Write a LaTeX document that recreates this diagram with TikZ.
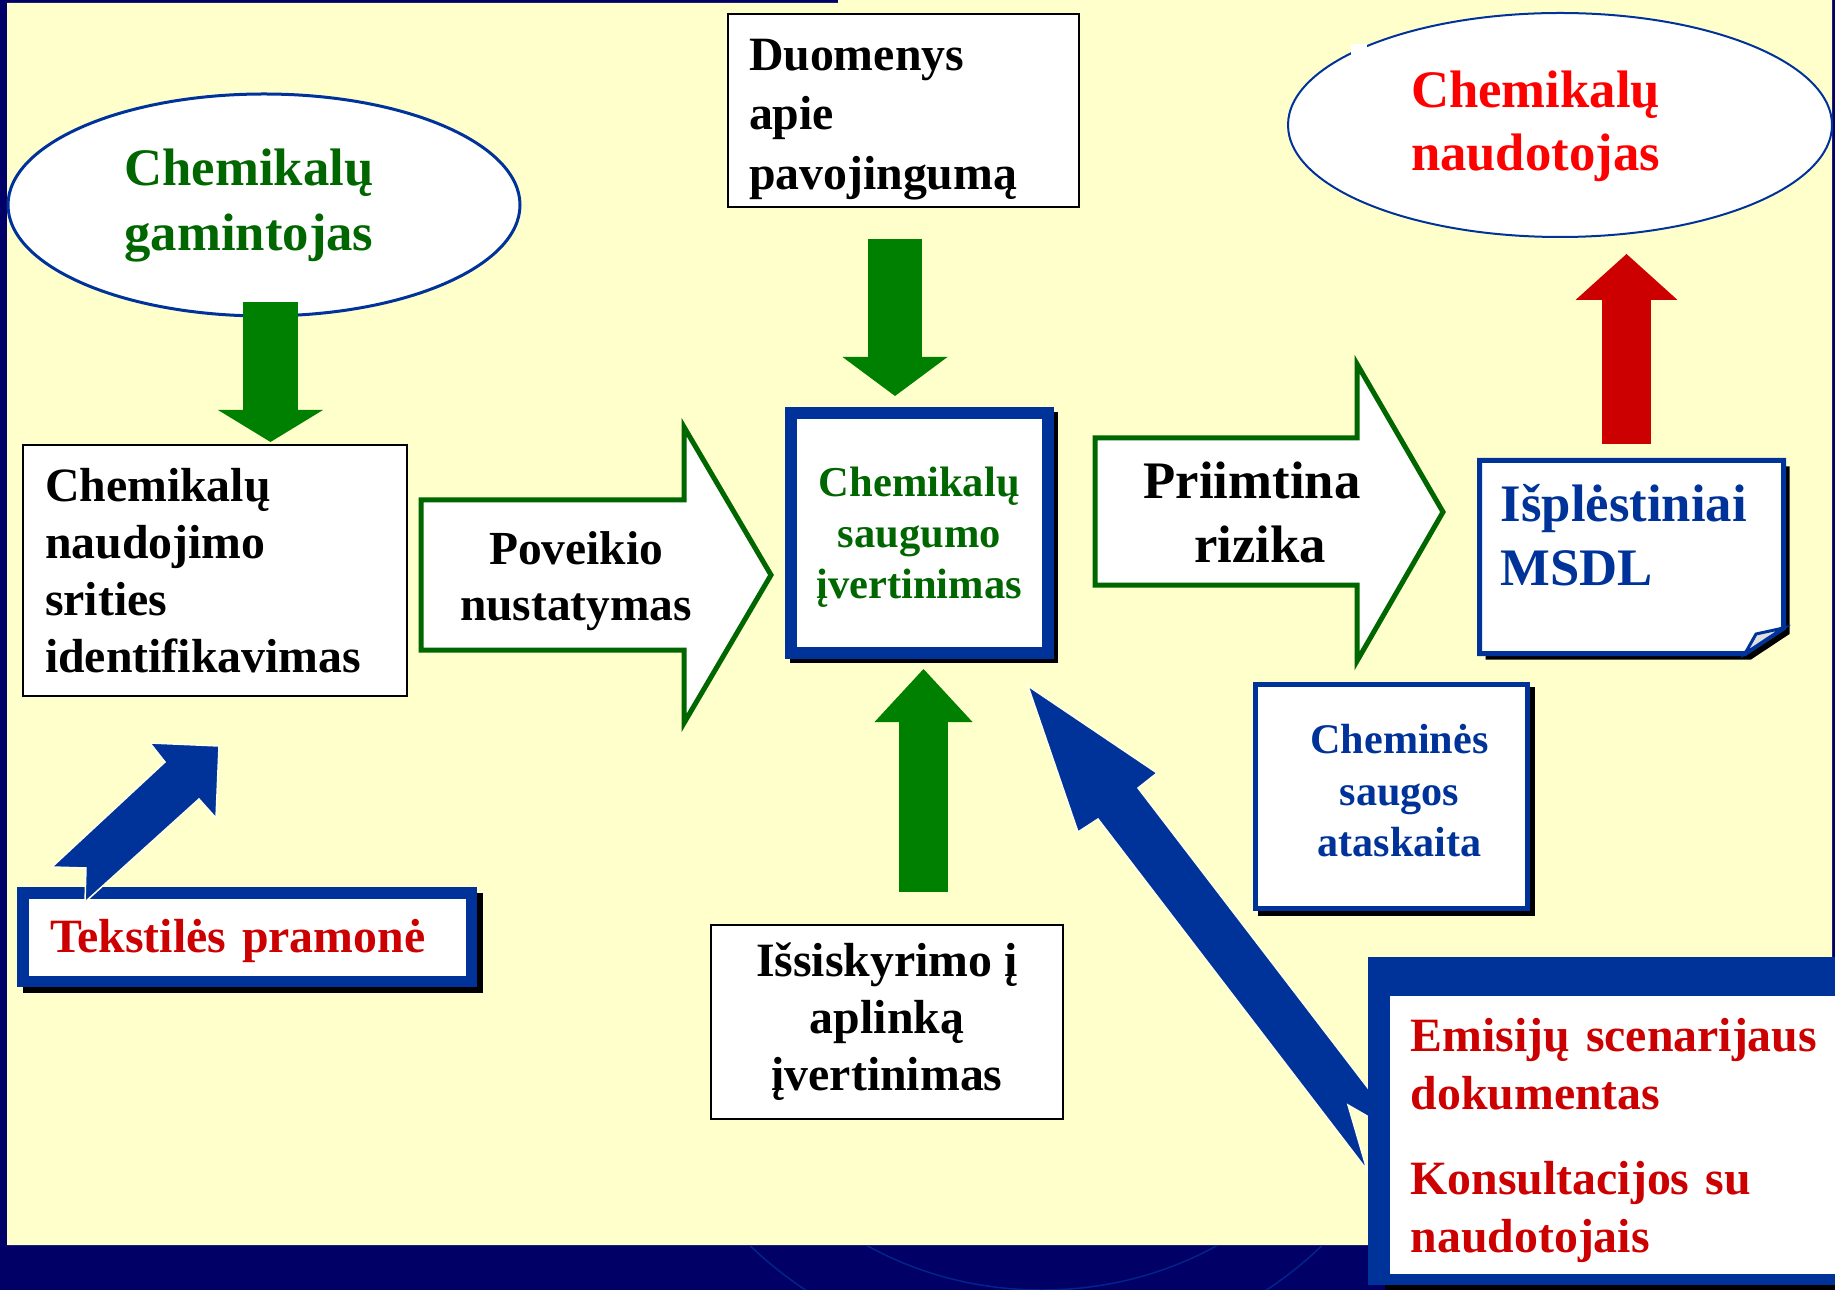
\documentclass[tikz,border=0pt]{standalone}
\usepackage{fontspec}
\setmainfont{Liberation Serif}
\usetikzlibrary{shapes.geometric,arrows.meta}
\definecolor{navy}{HTML}{000066}
\definecolor{paper}{HTML}{FFFFCC}
\definecolor{dblue}{HTML}{003399}
\definecolor{dgreen}{HTML}{006600}
\definecolor{agreen}{HTML}{008000}
\definecolor{dred}{HTML}{CC0000}
\definecolor{bred}{HTML}{FF0000}
\tikzset{
  plainbox/.style={draw=black,line width=0.2mm,fill=white,font=\bfseries\fontsize{13.6}{16.2}\selectfont},
  oval/.style={ellipse,draw=dblue,fill=white},
  hollowarrow/.style={draw=dgreen,line width=0.5mm,fill=white,line join=miter},
  notcharrow/.style={fill=dblue,draw=paper!50!white,line width=0.15mm,line join=miter},
  blockarrow/.style n args={4}{draw=#1,line width=#2,-{Triangle[width=#3,length=#4,line width=0pt]}}
}
\begin{document}
\begin{tikzpicture}[x=0.1mm,y=-0.1mm]
\useasboundingbox (0,0) rectangle (1835,1290);
\clip (0,0) rectangle (1835,1290);
\fill[navy] (0,0) rectangle (1835,1290);
\fill[paper] (7,3) -- (838,3) -- (838,0) -- (1832,0) -- (1832,1245) -- (7,1245) -- cycle;
\begin{scope}
\clip (0,1246) rectangle (1368,1290);
\draw[dblue!70!navy,line width=0.15mm] (1042,990) ellipse [x radius=334,y radius=300];
\draw[dblue!70!navy,line width=0.15mm] (1036,1000) ellipse [x radius=393,y radius=358];
\end{scope}

\node[oval,line width=0.3mm,minimum width=51.2mm,minimum height=22.2mm] (gamintojas) at (264,205) {};
\node[text=dgreen,font=\bfseries\fontsize{15}{18.5}\selectfont,align=center] (gamintojastxt) at (249,206) {Chemikalų\\gamintojas};
\node[oval,line width=0.2mm,minimum width=54.4mm,minimum height=22.4mm] (naudotojas) at (1560,125) {};
\fill[white] (1351,44) rectangle (1367,56);
\node[text=bred,font=\bfseries\fontsize{15}{18}\selectfont,align=center] (naudotojastxt) at (1535.5,126.5) {Chemikalų\\naudotojas};

\node[plainbox,font=\bfseries\fontsize{13.6}{16.9}\selectfont,text height=14pt,inner ysep=1pt,minimum width=35.1mm,minimum height=19.3mm,inner xsep=2.1mm,text width=30.9mm,align=left] (duomenys) at (903.5,110.5) {Duomenys\\apie\\pavojingumą};
\node[plainbox,minimum width=38.4mm,minimum height=25.1mm,inner xsep=2.2mm,text width=34mm,align=left] (ident) at (215,570.5) {Chemikalų\\naudojimo\\srities\\identifikavimas};
\node[plainbox,minimum width=35.2mm,minimum height=19.4mm,align=center] (issiskyrimo) at (887,1022) {Išsiskyrimo į\\aplinką\\įvertinimas};

\fill[black] (790,412) rectangle (1058,663);
\node[draw=dblue,line width=1.2mm,fill=white,minimum width=25.65mm,minimum height=23.95mm,align=center,text=dgreen,font=\bfseries\fontsize{12.1}{14.6}\selectfont,text depth=0pt] (saugumo) at (919.25,532.75) {Chemikalų\\saugumo\\įvertinimas};

\draw[hollowarrow] (421,500) -- (684,500) -- (684,427) -- (771,575) -- (684,723) -- (684,650) -- (421,650) -- cycle;
\node[font=\bfseries\fontsize{13.5}{16}\selectfont,align=center] (poveikio) at (576,581) {Poveikio\\nustatymas};
\draw[hollowarrow] (1095,438) -- (1357,438) -- (1357,364) -- (1443,512) -- (1357,661) -- (1357,585) -- (1095,585) -- cycle;
\node[font=\bfseries\fontsize{15}{18.2}\selectfont,align=center] (priimtina) at (1252,512) {Priimtina\\\hspace*{1.6mm}rizika};

\fill[black,shift={(6,6)}] (1479.5,460.5) -- (1783.5,460.5) -- (1783.5,628) -- (1745,653.5) -- (1479.5,653.5) -- cycle;
\draw[dblue,fill=white,line width=0.5mm] (1479.5,460.5) -- (1783.5,460.5) -- (1783.5,628) -- (1745,653.5) -- (1479.5,653.5) -- cycle;
\draw[dblue,fill=gray!25,line width=0.3mm] (1745,653.5) -- (1756,634) -- (1783.5,628) -- cycle;
\node[text=dblue,font=\bfseries\fontsize{15}{18.2}\selectfont,align=left,anchor=west,inner sep=0pt] (isplestiniai) at (1500,535) {Išplėstiniai\\MSDL};

\fill[black] (1258,687) rectangle (1535,916);
\node[draw=dblue,line width=0.5mm,fill=white,minimum width=27.2mm,minimum height=22.4mm,align=center,text=dblue,font=\bfseries\fontsize{12}{14.6}\selectfont,text depth=3.4pt] (chemines) at (1391.5,796.5) {\hspace*{1.6mm}Cheminės\\\hspace*{1.6mm}saugos\\\hspace*{1.6mm}ataskaita};

\coordinate (g1) at (270.5,302);
\coordinate (g2) at (270.5,442);
\coordinate (d1) at (895,239);
\coordinate (d2) at (895,396);
\coordinate (u1) at (923.5,892);
\coordinate (u2) at (923.5,669);
\coordinate (r1) at (1626.5,444);
\coordinate (r2) at (1626.5,254);
\draw[blockarrow={agreen}{5.5mm}{10.5mm}{3.2mm}] (g1) -- (g2);
\draw[blockarrow={agreen}{5.4mm}{10.5mm}{3.9mm}] (d1) -- (d2);
\draw[blockarrow={agreen}{4.9mm}{9.8mm}{5.3mm}] (u1) -- (u2);
\draw[blockarrow={dred}{4.9mm}{10.2mm}{4.6mm}] (r1) -- (r2);

\fill[black] (23,893) rectangle (483,993);
\node[draw=dblue,line width=1.15mm,fill=white,minimum height=8.85mm,inner xsep=2.7mm,text width=39.45mm,align=left,text=dred,font=\bfseries\fontsize{13.6}{16.2}\selectfont,text height=11.5pt] (tekstiles) at (247.25,937.25) {Tekstilės pramonė};
\draw[notcharrow] (219,746) -- (216,818) -- (199,799) -- (85,902) -- (86,868) -- (52,867) -- (165,762) -- (150,743) -- cycle;

\draw[notcharrow] (1028,686) -- (1157,773) -- (1138,788) -- (1407,1139) -- (1348,1105) -- (1367,1170) -- (1098,819) -- (1078,832) -- cycle;
\fill[black] (1385,1285) rectangle (1840,1295);
\fill[dblue] (1368,957) rectangle (1840,1285);
\node[fill=white,anchor=north west,minimum width=45.1mm,minimum height=27.8mm,inner xsep=2.1mm,text width=42mm,align=left,text=dred,font=\bfseries\fontsize{13.6}{16.5}\selectfont,text height=12.5pt] (emisiju) at (1389,995) {Emisijų scenarijaus\\dokumentas\\[2.7mm]Konsultacijos su\\naudotojais};
\end{tikzpicture}
\end{document}
